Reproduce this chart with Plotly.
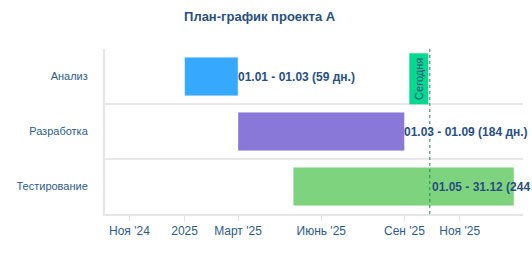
import plotly.graph_objects as go
import pandas as pd

tasks = ["Анализ", "Разработка", "Тестирование"]
starts = ["2025-01-01", "2025-03-01", "2025-05-01"]
ends = ["2025-03-01", "2025-09-01", "2025-12-31"]
labels = ["01.01 - 01.03 (59 дн.)", "01.03 - 01.09 (184 дн.)", "01.05 - 31.12 (244 дн.)"]
label_at = ["2025-03-01", "2025-09-01", "2025-10-01"]
colors = ["#36a9ff", "#8a78d8", "#7ed47e"]
today = "2025-09-29"
tick_vals = ["2024-11-01", "2025-01-01", "2025-03-01", "2025-06-01", "2025-09-01", "2025-11-01"]
tick_text = ["Ноя '24", "2025", "Март '25", "Июнь '25", "Сен '25", "Ноя '25"]
x_range = ["2024-10-05", "2026-01-10"]

durations = [(pd.Timestamp(e) - pd.Timestamp(s)).total_seconds() * 1000 for s, e in zip(starts, ends)]

fig = go.Figure()
fig.add_trace(go.Bar(
    y=tasks, x=durations, base=starts, orientation="h",
    marker=dict(color=colors, line=dict(color="rgba(255,255,255,0.35)", width=1)),
    width=0.7,
    hoverinfo="skip",
))

for task, lab, lx in zip(tasks, labels, label_at):
    fig.add_annotation(x=lx, y=task, xref="x", yref="y", xanchor="left", yanchor="middle",
                       xshift=-2, text=lab, showarrow=False,
                       font=dict(family="Arial, Liberation Sans", size=12, color="#2a4f7f", weight="bold"))

fig.add_shape(type="line", xref="x", yref="paper", x0=today, x1=today, y0=0, y1=1,
              line=dict(color="#1e8a4c", width=1, dash="dot"))
fig.add_annotation(x=today, xref="x", y=1, yref="paper", xanchor="right", yanchor="top",
                   yshift=-4, xshift=-1, text="\u200aСегодня\u200a", textangle=-90, showarrow=False,
                   bgcolor="#05d98f", borderpad=3,
                   font=dict(family="Arial, Liberation Sans", size=11, color="#2a4f7f"))

fig.update_layout(
    width=532, height=255,
    margin=dict(l=105, r=9, t=49, b=41),
    paper_bgcolor="white", plot_bgcolor="white",
    showlegend=False,
    title=dict(text="<b>План-график проекта А</b>", x=0.488, xref="container", xanchor="center",
               y=0.935, yanchor="middle",
               font=dict(family="Arial, Liberation Sans", size=13, color="#2a4f7f")),
    font=dict(family="Arial, Liberation Sans", color="#2e5c8a"),
)
fig.update_xaxes(type="date", range=x_range, tickvals=tick_vals, ticktext=tick_text,
                 showgrid=False, ticks="outside", ticklen=5, tickcolor="#e3e3e3", tickwidth=1,
                 showline=True, linecolor="#e6e6e6", linewidth=2,
                 tickfont=dict(size=12, color="#2e5c8a"), zeroline=False)
fig.update_yaxes(type="category", categoryorder="array", categoryarray=tasks,
                 range=[2.5, -0.5], tickson="boundaries", showgrid=True, gridcolor="#e8e8e8",
                 gridwidth=2, showline=True, linecolor="#e6e6e6", linewidth=2,
                 ticks="", ticklabelstandoff=13,
                 tickfont=dict(size=11, color="#2e5c8a"))

fig.write_html("out.html")
